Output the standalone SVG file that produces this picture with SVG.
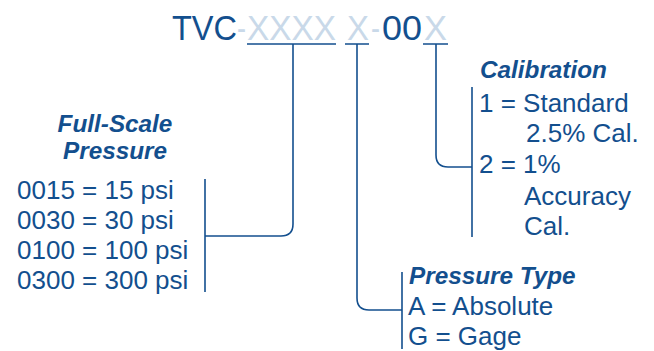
<svg xmlns="http://www.w3.org/2000/svg" width="654" height="351" viewBox="0 0 654 351">
<style>
.t{font-family:"Liberation Sans",Arial,sans-serif;fill:#134f8e;font-size:26px}
.h{font-family:"Liberation Sans",Arial,sans-serif;fill:#134f8e;font-size:24.3px;font-weight:bold;font-style:italic}
.big{font-family:"Liberation Sans",Arial,sans-serif;font-size:35px}
.d{fill:#134f8e}
.l{fill:#c9d9e9}
.c{fill:none;stroke:#134f8e;stroke-width:1.6}
</style>
<rect width="654" height="351" fill="#ffffff"/>
<g id="title">
<text class="big" y="40"><tspan class="d" x="172" textLength="65" lengthAdjust="spacingAndGlyphs">TVC</tspan><tspan class="l" x="237" textLength="9" lengthAdjust="spacingAndGlyphs">-</tspan><tspan class="l" x="247" textLength="89" lengthAdjust="spacingAndGlyphs">XXXX</tspan><tspan class="l" x="347" textLength="22" lengthAdjust="spacingAndGlyphs">X</tspan><tspan class="l" x="371" textLength="9" lengthAdjust="spacingAndGlyphs">-</tspan><tspan class="d" x="382" textLength="40" lengthAdjust="spacingAndGlyphs">00</tspan><tspan class="l" x="424" textLength="23" lengthAdjust="spacingAndGlyphs">X</tspan></text>
</g>
<g id="connectors">
<path class="c" d="M247,44 H336 M345,44 H369 M423,44 H448"/>
<path class="c" d="M293,44 V224 Q293,236 281,236 H205 M205,179 V292"/>
<path class="c" d="M357,44 V298 Q357,310 369,310 H402 M402,272 V349"/>
<path class="c" d="M436,44 V155 Q436,167 448,167 H472 M472,87 V237"/>
</g>
<g id="full-scale">
<text class="h" x="115" y="132" text-anchor="middle">Full-Scale</text>
<text class="h" x="115" y="159" text-anchor="middle">Pressure</text>
<text class="t" x="17" y="199">0015 = 15 psi</text>
<text class="t" x="17" y="229">0030 = 30 psi</text>
<text class="t" x="17" y="259">0100 = 100 psi</text>
<text class="t" x="17" y="289">0300 = 300 psi</text>
</g>
<g id="pressure-type">
<text class="h" x="409" y="284">Pressure Type</text>
<text class="t" x="408" y="315">A = Absolute</text>
<text class="t" x="408" y="345">G = Gage</text>
</g>
<g id="calibration">
<text class="h" x="480" y="78">Calibration</text>
<text class="t" x="479" y="112">1 = Standard</text>
<text class="t" x="526" y="142">2.5% Cal.</text>
<text class="t" x="479" y="173">2 = 1%</text>
<text class="t" x="524" y="205">Accuracy</text>
<text class="t" x="524" y="235">Cal.</text>
</g>
</svg>
